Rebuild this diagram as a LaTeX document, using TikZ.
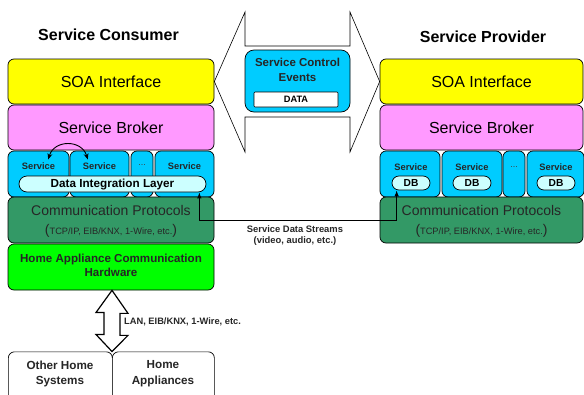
\documentclass[tikz,border=0pt]{standalone}
\usepackage{fontspec}
\setmainfont{Liberation Sans}
\usetikzlibrary{arrows.meta}

\definecolor{soaYellow}{RGB}{255,255,0}
\definecolor{brokerPink}{RGB}{255,153,255}
\definecolor{svcCyan}{RGB}{0,204,255}
\definecolor{svcLight}{RGB}{204,255,255}
\definecolor{commGreen}{RGB}{51,153,102}
\definecolor{hwGreen}{RGB}{0,255,0}

\newcommand{\fsz}[1]{\fontsize{#1}{#1}\selectfont}

\begin{document}
\begin{tikzpicture}[x=1pt,y=-1pt,
  layer/.style={draw=black, line width=0.7pt, rounded corners=6pt, inner sep=0pt},
  cell/.style={layer, fill=svcCyan, minimum height=46pt},
  pill/.style={draw=black, line width=0.7pt, rounded corners=7pt, fill=svcLight, inner sep=0pt},
  lbl/.style={inner sep=0pt, align=center},
  svclbl/.style={lbl, font=\fsz{9.3}\bfseries, text=black!85},
  dotslbl/.style={lbl, font=\fsz{9}, text=black!75},
  title/.style={lbl, font=\fsz{16}\bfseries},
  outline/.style={draw=black, line width=0.6pt, fill=white},
  stream/.style={draw=black, line width=0.9pt, {Latex[length=6pt,width=4.5pt]}-{Latex[length=6pt,width=4.5pt]}},
  twoway/.style={draw=black, line width=0.9pt, {Stealth[length=6pt,width=5pt]}-{Stealth[length=6pt,width=5pt]}}
]
\useasboundingbox (0,0) rectangle (584,394);
\clip (0,0) rectangle (584,394);

% ---------- headings ----------
\node[title] (tcons) at (108.5,35) {Service Consumer};
\node[title] (tprov) at (483,36.5) {Service Provider};

% ---------- consumer stack ----------
\node[layer, fill=soaYellow, minimum width=206pt, minimum height=45pt, font=\fsz{16}] (lsoa) at (111,81.5) {SOA Interface};
\node[layer, fill=brokerPink, minimum width=206pt, minimum height=45pt, font=\fsz{16}] (lbrk) at (111,127.5) {Service Broker};

\node[cell, minimum width=61pt] (lc1) at (38.5,174) {};
\node[cell, minimum width=59pt] (lc2) at (99.5,174) {};
\node[cell, minimum width=22pt] (lc3) at (142,174) {};
\node[cell, minimum width=59pt] (lc4) at (184.5,174) {};
\node[svclbl] (lsv1) at (38.5,166) {Service};
\node[svclbl] (lsv2) at (99.5,166) {Service};
\node[dotslbl] (ldots) at (142,165) {...};
\node[svclbl] (lsv4) at (184.5,166) {Service};
\node[pill, rounded corners=8pt, minimum width=187pt, minimum height=16pt, font=\fsz{11.7}\bfseries] (ldil) at (112.5,184) {Data Integration Layer};

\node[layer, fill=commGreen, minimum width=206pt, minimum height=46pt] (lcom) at (111,220) {};
\node[lbl, font=\fsz{14}, text=black!85] (lcomt) at (111,210) {Communication Protocols};
\node[lbl, font=\fsz{9.25}, text=black!85] (lcoms) at (111,230.5) {{\fsz{14}(}TCP/IP, EIB/KNX, 1-Wire, etc.{\fsz{14})}};

\node[layer, fill=hwGreen, minimum width=206pt, minimum height=46pt] (lhw) at (111,267) {};
\node[lbl, font=\fsz{11.6}\bfseries, text=black!85] (lhwt) at (111,265.5) {Home Appliance Communication\\[2.5pt]Hardware};

% ---------- provider stack ----------
\node[layer, fill=soaYellow, minimum width=203pt, minimum height=45pt, font=\fsz{16}] (rsoa) at (481.5,81.5) {SOA Interface};
\node[layer, fill=brokerPink, minimum width=203pt, minimum height=45pt, font=\fsz{16}] (rbrk) at (481.5,127.5) {Service Broker};

\node[cell, minimum width=60pt] (rc1) at (410,174) {};
\node[cell, minimum width=60pt] (rc2) at (472,174) {};
\node[cell, minimum width=22pt] (rc3) at (514,174) {};
\node[cell, minimum width=57pt] (rc4) at (555.5,174) {};
\node[svclbl] (rsv1) at (411,167) {Service};
\node[svclbl] (rsv2) at (472,167) {Service};
\node[dotslbl] (rdots) at (514,167) {...};
\node[svclbl] (rsv4) at (556,167) {Service};
\node[pill, minimum width=38pt, minimum height=14pt, font=\fsz{10.2}\bfseries] (rdb1) at (411,183) {DB};
\node[pill, minimum width=38pt, minimum height=14pt, font=\fsz{10.2}\bfseries] (rdb2) at (472,183) {DB};
\node[pill, minimum width=38pt, minimum height=14pt, font=\fsz{10.2}\bfseries] (rdb3) at (556,183) {DB};

\node[layer, fill=commGreen, minimum width=203pt, minimum height=46pt] (rcom) at (481.5,220) {};
\node[lbl, font=\fsz{14}, text=black!85] (rcomt) at (481.5,210) {Communication Protocols};
\node[lbl, font=\fsz{9.25}, text=black!85] (rcoms) at (481.5,230.5) {{\fsz{14}(}TCP/IP, EIB/KNX, 1-Wire, etc.{\fsz{14})}};

% ---------- control-event double arrow between the two SOA interfaces ----------
\draw[outline] (lsoa.east) -- (245,12) -- (245,46) -- (350,46) -- (350,12)
  -- (rsoa.west) -- (350,152) -- (350,117) -- (245,117) -- (245,152) -- cycle;
\node[layer, rounded corners=9pt, fill=svcCyan, minimum width=105pt, minimum height=62pt] (sce) at (297.5,81) {};
\node[lbl, font=\fsz{11.5}\bfseries, text=black!85] (scet) at (297.5,70) {Service Control\\[3.5pt]Events};
\node[draw=black, line width=0.6pt, fill=white, rounded corners=1pt, minimum width=84pt, minimum height=15pt, inner sep=0pt, font=\fsz{9.25}\bfseries] (data) at (296,99.5) {DATA};

% ---------- service-to-service exchange ----------
\draw[twoway] ([xshift=-7pt,yshift=3pt]lsv1.north east) .. controls +(6,-20) and +(-6,-20) .. ([xshift=5pt,yshift=3pt]lsv2.north west);

% ---------- data streams between the stacks ----------
\draw[stream] ([xshift=-7pt]ldil.south east) -- ++(0,28) -| ([xshift=5pt]rdb1.south west);
\node[lbl, font=\fsz{9.4}\bfseries, text=black!85] (sdst) at (295,235.5) {Service Data Streams\\[1pt](video, audio, etc.)};

% ---------- home network link ----------
\node[layer, fill=white, minimum width=104pt, minimum height=60pt, anchor=north west] (oth) at (8,351.5) {};
\node[layer, fill=white, minimum width=102pt, minimum height=60pt, anchor=north west] (app) at (112,351.5) {};
\node[lbl, font=\fsz{11.7}\bfseries, text=black!85] (otht) at (60,374) {Other Home\\[4pt]Systems};
\node[lbl, font=\fsz{11.7}\bfseries, text=black!85] (appt) at (163,374) {Home\\[4pt]Appliances};

\draw[outline, line width=1.2pt, line join=miter] (lhw.south -| app.north west) -- ++(16,23) -- ++(-8,0) -- ++(0,22)
  -- ++(8,0) -- (app.north west) -- ++(-16,-17) -- ++(8,0) -- ++(0,-22) -- ++(-8,0) -- cycle;
\node[lbl, font=\fsz{9.3}\bfseries, text=black!85, anchor=west] (lan) at (124,322) {LAN, EIB/KNX, 1-Wire, etc.};
\end{tikzpicture}
\end{document}
